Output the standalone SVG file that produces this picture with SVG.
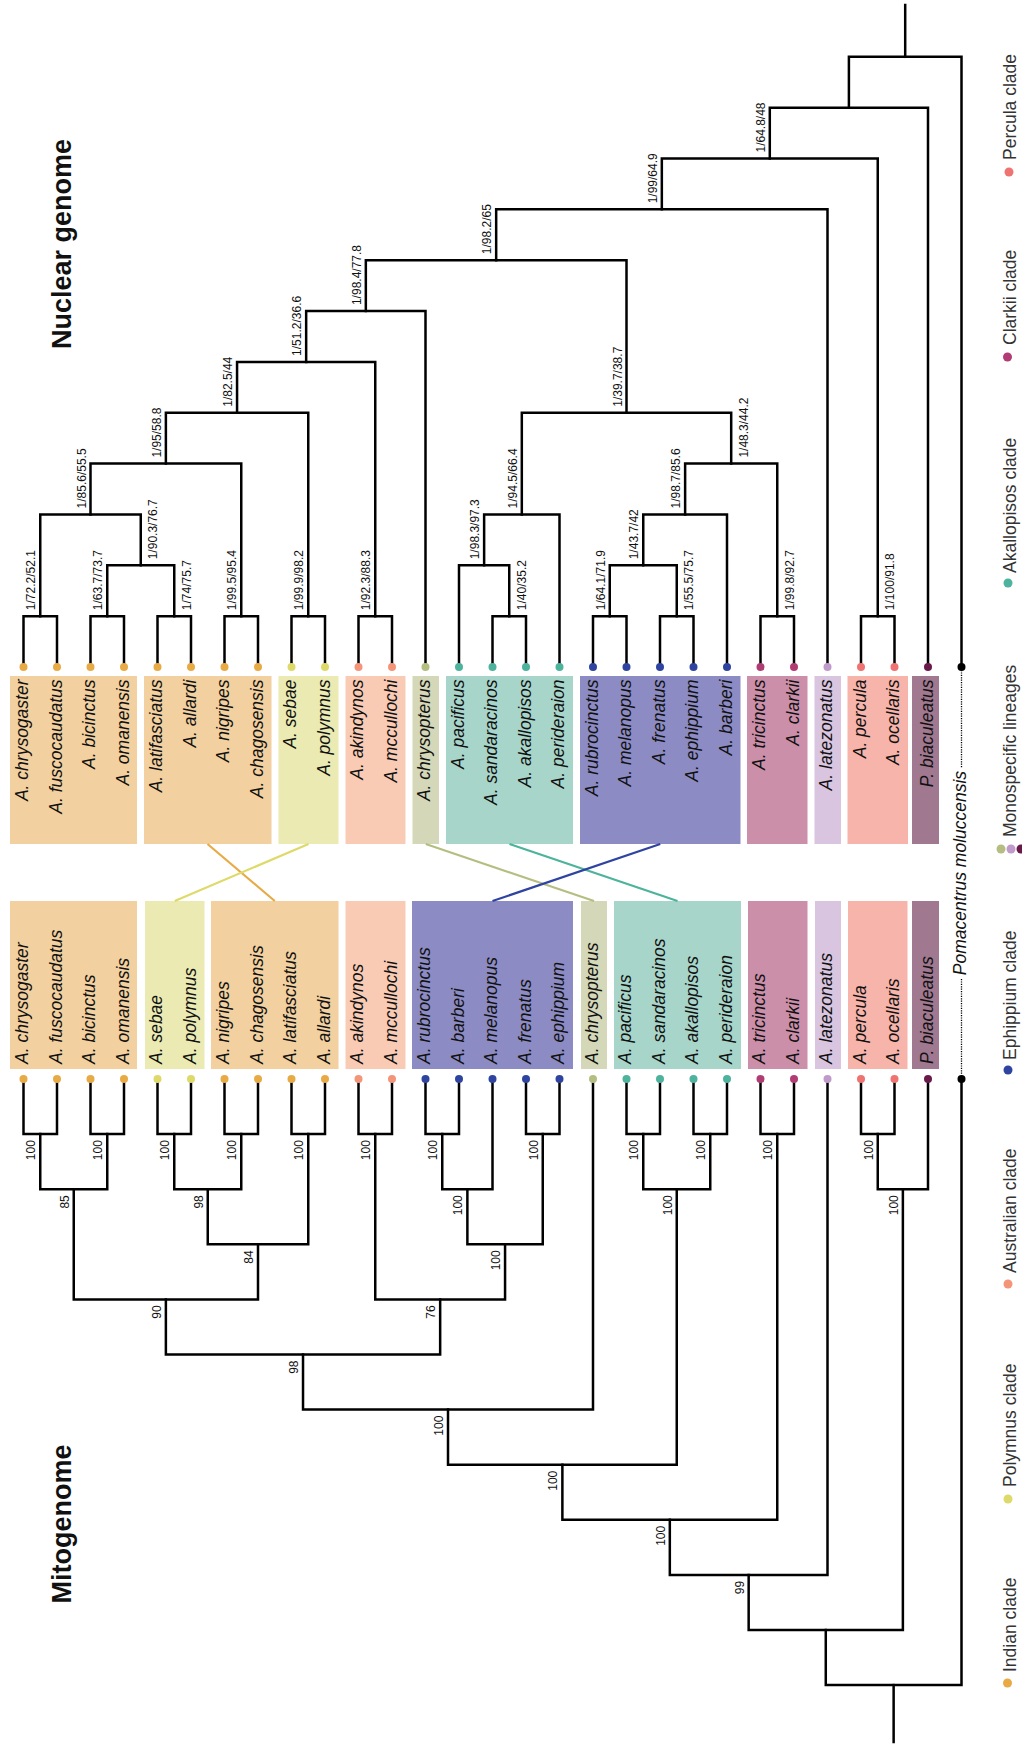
<svg xmlns="http://www.w3.org/2000/svg" width="1022" height="1744" viewBox="0 0 1022 1744">
<style>
.br{fill:none;stroke:#000;stroke-width:2.5;stroke-linejoin:miter;stroke-linecap:square}
.sp{font-family:"Liberation Sans",Arial,sans-serif;font-style:italic;font-size:17.5px;fill:#111}
.up{text-anchor:end}
.nl{font-family:"Liberation Sans",Arial,sans-serif;font-size:12px;fill:#111}
.ml{font-family:"Liberation Sans",Arial,sans-serif;font-size:12px;fill:#111;text-anchor:end}
.ti{font-family:"Liberation Sans",Arial,sans-serif;font-weight:bold;font-size:27px;fill:#111;text-anchor:middle}
.lg{font-family:"Liberation Sans",Arial,sans-serif;font-size:17.5px;fill:#333}
.cx{fill:none;stroke-width:2.2}
.dot{stroke:none}
.ind{fill:#F2D09F}.pol{fill:#EAEAB2}.aus{fill:#F9CBB5}.chr{fill:#D4D8B8}.aka{fill:#A8D5CA}.eph{fill:#8C8BC4}.cla{fill:#CC8FAA}.lat{fill:#D9C5E0}.per{fill:#F7B4AB}.bia{fill:#A07890}
.dind{fill:#E8AA45}.dpol{fill:#DEDA6A}.daus{fill:#F4957A}.dchr{fill:#B5BE80}.daka{fill:#4DB39C}.deph{fill:#2F44A0}.dcla{fill:#B13C74}.dlat{fill:#C09ACB}.dper{fill:#EF7370}.dbia{fill:#6A1A4A}.dblk{fill:#000}
.dotted{fill:none;stroke:#000;stroke-width:1.3;stroke-dasharray:1.2 1.2}
</style>

<!-- Titles -->
<text class="ti" transform="translate(71 244) rotate(-90)">Nuclear genome</text>
<text class="ti" transform="translate(71 1524) rotate(-90)">Mitogenome</text>

<!-- Upper (nuclear) clade boxes -->
<g id="nuc-indian-1">
<rect class="ind" x="10" y="676" width="127" height="168"/>
<text class="sp up" transform="translate(28 679.5) rotate(-90)">A. chrysogaster</text>
<text class="sp up" transform="translate(61.5 679.5) rotate(-90)">A. fuscocaudatus</text>
<text class="sp up" transform="translate(95 679.5) rotate(-90)">A. bicinctus</text>
<text class="sp up" transform="translate(128.5 679.5) rotate(-90)">A. omanensis</text>
</g>
<g id="nuc-indian-2">
<rect class="ind" x="144" y="676" width="127.5" height="168"/>
<text class="sp up" transform="translate(162 679.5) rotate(-90)">A. latifasciatus</text>
<text class="sp up" transform="translate(195.5 679.5) rotate(-90)">A. allardi</text>
<text class="sp up" transform="translate(229 679.5) rotate(-90)">A. nigripes</text>
<text class="sp up" transform="translate(262.5 679.5) rotate(-90)">A. chagosensis</text>
</g>
<g id="nuc-polymnus">
<rect class="pol" x="278.5" y="676" width="60" height="168"/>
<text class="sp up" transform="translate(296 679.5) rotate(-90)">A. sebae</text>
<text class="sp up" transform="translate(329.5 679.5) rotate(-90)">A. polymnus</text>
</g>
<g id="nuc-australian">
<rect class="aus" x="345.5" y="676" width="60" height="168"/>
<text class="sp up" transform="translate(363 679.5) rotate(-90)">A. akindynos</text>
<text class="sp up" transform="translate(396.5 679.5) rotate(-90)">A. mccullochi</text>
</g>
<g id="nuc-chrysopterus">
<rect class="chr" x="412.5" y="676" width="26.5" height="168"/>
<text class="sp up" transform="translate(430 679.5) rotate(-90)">A. chrysopterus</text>
</g>
<g id="nuc-akallopisos">
<rect class="aka" x="446" y="676" width="127" height="168"/>
<text class="sp up" transform="translate(463.5 679.5) rotate(-90)">A. pacificus</text>
<text class="sp up" transform="translate(497 679.5) rotate(-90)">A. sandaracinos</text>
<text class="sp up" transform="translate(530.5 679.5) rotate(-90)">A. akallopisos</text>
<text class="sp up" transform="translate(564 679.5) rotate(-90)">A. perideraion</text>
</g>
<g id="nuc-ephippium">
<rect class="eph" x="580" y="676" width="160.5" height="168"/>
<text class="sp up" transform="translate(597.5 679.5) rotate(-90)">A. rubrocinctus</text>
<text class="sp up" transform="translate(631 679.5) rotate(-90)">A. melanopus</text>
<text class="sp up" transform="translate(664.5 679.5) rotate(-90)">A. frenatus</text>
<text class="sp up" transform="translate(698 679.5) rotate(-90)">A. ephippium</text>
<text class="sp up" transform="translate(731.5 679.5) rotate(-90)">A. barberi</text>
</g>
<g id="nuc-clarkii">
<rect class="cla" x="747" y="676" width="60.5" height="168"/>
<text class="sp up" transform="translate(765 679.5) rotate(-90)">A. tricinctus</text>
<text class="sp up" transform="translate(798.5 679.5) rotate(-90)">A. clarkii</text>
</g>
<g id="nuc-latezonatus">
<rect class="lat" x="814.5" y="676" width="26.5" height="168"/>
<text class="sp up" transform="translate(832 679.5) rotate(-90)">A. latezonatus</text>
</g>
<g id="nuc-percula">
<rect class="per" x="847.5" y="676" width="60.5" height="168"/>
<text class="sp up" transform="translate(865.5 679.5) rotate(-90)">A. percula</text>
<text class="sp up" transform="translate(899 679.5) rotate(-90)">A. ocellaris</text>
</g>
<g id="nuc-biaculeatus">
<rect class="bia" x="912" y="676" width="27" height="168"/>
<text class="sp up" transform="translate(932.5 679.5) rotate(-90)">P. biaculeatus</text>
</g>

<!-- Lower (mitogenome) clade boxes -->
<g id="mito-indian-1">
<rect class="ind" x="10" y="901" width="127" height="168"/>
<text class="sp" transform="translate(28 1064) rotate(-90)">A. chrysogaster</text>
<text class="sp" transform="translate(61.5 1064) rotate(-90)">A. fuscocaudatus</text>
<text class="sp" transform="translate(95 1064) rotate(-90)">A. bicinctus</text>
<text class="sp" transform="translate(128.5 1064) rotate(-90)">A. omanensis</text>
</g>
<g id="mito-polymnus">
<rect class="pol" x="145" y="901" width="59.5" height="168"/>
<text class="sp" transform="translate(162 1064) rotate(-90)">A. sebae</text>
<text class="sp" transform="translate(195.5 1064) rotate(-90)">A. polymnus</text>
</g>
<g id="mito-indian-2">
<rect class="ind" x="211" y="901" width="127.5" height="168"/>
<text class="sp" transform="translate(229 1064) rotate(-90)">A. nigripes</text>
<text class="sp" transform="translate(262.5 1064) rotate(-90)">A. chagosensis</text>
<text class="sp" transform="translate(296 1064) rotate(-90)">A. latifasciatus</text>
<text class="sp" transform="translate(329.5 1064) rotate(-90)">A. allardi</text>
</g>
<g id="mito-australian">
<rect class="aus" x="345.5" y="901" width="60" height="168"/>
<text class="sp" transform="translate(363 1064) rotate(-90)">A. akindynos</text>
<text class="sp" transform="translate(396.5 1064) rotate(-90)">A. mccullochi</text>
</g>
<g id="mito-ephippium">
<rect class="eph" x="412" y="901" width="161" height="168"/>
<text class="sp" transform="translate(430 1064) rotate(-90)">A. rubrocinctus</text>
<text class="sp" transform="translate(463.5 1064) rotate(-90)">A. barberi</text>
<text class="sp" transform="translate(497 1064) rotate(-90)">A. melanopus</text>
<text class="sp" transform="translate(530.5 1064) rotate(-90)">A. frenatus</text>
<text class="sp" transform="translate(564 1064) rotate(-90)">A. ephippium</text>
</g>
<g id="mito-chrysopterus">
<rect class="chr" x="581" y="901" width="26" height="168"/>
<text class="sp" transform="translate(597.5 1064) rotate(-90)">A. chrysopterus</text>
</g>
<g id="mito-akallopisos">
<rect class="aka" x="614" y="901" width="127" height="168"/>
<text class="sp" transform="translate(631 1064) rotate(-90)">A. pacificus</text>
<text class="sp" transform="translate(664.5 1064) rotate(-90)">A. sandaracinos</text>
<text class="sp" transform="translate(698 1064) rotate(-90)">A. akallopisos</text>
<text class="sp" transform="translate(731.5 1064) rotate(-90)">A. perideraion</text>
</g>
<g id="mito-clarkii">
<rect class="cla" x="748" y="901" width="59.5" height="168"/>
<text class="sp" transform="translate(765 1064) rotate(-90)">A. tricinctus</text>
<text class="sp" transform="translate(798.5 1064) rotate(-90)">A. clarkii</text>
</g>
<g id="mito-latezonatus">
<rect class="lat" x="815" y="901" width="26" height="168"/>
<text class="sp" transform="translate(832 1064) rotate(-90)">A. latezonatus</text>
</g>
<g id="mito-percula">
<rect class="per" x="848" y="901" width="59.5" height="168"/>
<text class="sp" transform="translate(865.5 1064) rotate(-90)">A. percula</text>
<text class="sp" transform="translate(899 1064) rotate(-90)">A. ocellaris</text>
</g>
<g id="mito-biaculeatus">
<rect class="bia" x="912" y="901" width="27" height="168"/>
<text class="sp" transform="translate(932.5 1064) rotate(-90)">P. biaculeatus</text>
</g>

<!-- Outgroup -->
<g id="outgroup">
<line class="dotted" x1="961.5" y1="670" x2="961.5" y2="768"/>
<line class="dotted" x1="961.5" y1="979" x2="961.5" y2="1076"/>
<text class="sp" style="text-anchor:middle" transform="translate(966 873) rotate(-90)">Pomacentrus moluccensis</text>
</g>

<!-- Connectors between trees -->
<g id="connectors">
<line class="cx" stroke="#E8AA45" x1="207.5" y1="844" x2="274.75" y2="901"/>
<line class="cx" stroke="#DEDA6A" x1="308.5" y1="844" x2="174.75" y2="901"/>
<line class="cx" stroke="#B5BE80" x1="425.75" y1="844" x2="594" y2="901"/>
<line class="cx" stroke="#4DB39C" x1="509.5" y1="844" x2="677.5" y2="901"/>
<line class="cx" stroke="#2F44A0" x1="660.25" y1="844" x2="492.5" y2="901"/>
</g>

<!-- Nuclear tree -->
<g id="nuclear-tree">
<path class="br" d="M23.5 667V616.15H57V667"/>
<path class="br" d="M90.5 667V616.15H124V667"/>
<path class="br" d="M157.5 667V616.15H191V667"/>
<path class="br" d="M107.25 616.15V565.3H174.25V616.15"/>
<path class="br" d="M224.5 667V616.15H258V667"/>
<path class="br" d="M40.25 616.15V514.45H140.75V565.3"/>
<path class="br" d="M90.5 514.45V463.6H241.25V616.15"/>
<path class="br" d="M291.5 667V616.15H325V667"/>
<path class="br" d="M165.875 463.6V412.75H308.25V616.15"/>
<path class="br" d="M358.5 667V616.15H392V667"/>
<path class="br" d="M237.06 412.75V361.9H375.25V616.15"/>
<path class="br" d="M306.16 361.9V311.05H425.5V667"/>
<path class="br" d="M492.5 667V616.15H526V667"/>
<path class="br" d="M459 667V565.3H509.25V616.15"/>
<path class="br" d="M484.125 565.3V514.45H559.5V667"/>
<path class="br" d="M593 667V616.15H626.5V667"/>
<path class="br" d="M660 667V616.15H693.5V667"/>
<path class="br" d="M609.75 616.15V565.3H676.75V616.15"/>
<path class="br" d="M643.25 565.3V514.45H727V667"/>
<path class="br" d="M760.5 667V616.15H794V667"/>
<path class="br" d="M685.125 514.45V463.6H777.25V616.15"/>
<path class="br" d="M521.81 514.45V412.75H731.19V463.6"/>
<path class="br" d="M365.83 311.05V260.2H626.5V412.75"/>
<path class="br" d="M496.17 260.2V209.35H827.5V667"/>
<path class="br" d="M861 667V616.15H894.5V667"/>
<path class="br" d="M661.83 209.35V158.5H877.75V616.15"/>
<path class="br" d="M769.79 158.5V107.65H928V667"/>
<path class="br" d="M848.9 107.65V56.8H961.5V667"/>
<path class="br" d="M905.2 56.8V5"/>
<g>
<text class="nl" transform="translate(35.25 610.15) rotate(-90)">1/72.2/52.1</text>
<text class="nl" transform="translate(102.25 610.15) rotate(-90)">1/63.7/73.7</text>
<text class="nl" transform="translate(236.25 610.15) rotate(-90)">1/99.5/95.4</text>
<text class="nl" transform="translate(85.5 508.45) rotate(-90)">1/85.6/55.5</text>
<text class="nl" transform="translate(160.875 457.6) rotate(-90)">1/95/58.8</text>
<text class="nl" transform="translate(303.25 610.15) rotate(-90)">1/99.9/98.2</text>
<text class="nl" transform="translate(232.06 406.75) rotate(-90)">1/82.5/44</text>
<text class="nl" transform="translate(370.25 610.15) rotate(-90)">1/92.3/88.3</text>
<text class="nl" transform="translate(301.16 355.9) rotate(-90)">1/51.2/36.6</text>
<text class="nl" transform="translate(360.83 305.05) rotate(-90)">1/98.4/77.8</text>
<text class="nl" transform="translate(479.125 559.3) rotate(-90)">1/98.3/97.3</text>
<text class="nl" transform="translate(516.81 508.45) rotate(-90)">1/94.5/66.4</text>
<text class="nl" transform="translate(604.75 610.15) rotate(-90)">1/64.1/71.9</text>
<text class="nl" transform="translate(638.25 559.3) rotate(-90)">1/43.7/42</text>
<text class="nl" transform="translate(680.125 508.45) rotate(-90)">1/98.7/85.6</text>
<text class="nl" transform="translate(621.5 406.75) rotate(-90)">1/39.7/38.7</text>
<text class="nl" transform="translate(491.17 254.2) rotate(-90)">1/98.2/65</text>
<text class="nl" transform="translate(656.83 203.35) rotate(-90)">1/99/64.9</text>
<text class="nl" transform="translate(764.79 152.5) rotate(-90)">1/64.8/48</text>
<text class="nl" transform="translate(190.75 610.15) rotate(-90)">1/74/75.7</text>
<text class="nl" transform="translate(157.25 559.3) rotate(-90)">1/90.3/76.7</text>
<text class="nl" transform="translate(525.75 610.15) rotate(-90)">1/40/35.2</text>
<text class="nl" transform="translate(693.25 610.15) rotate(-90)">1/55.5/75.7</text>
<text class="nl" transform="translate(793.75 610.15) rotate(-90)">1/99.8/92.7</text>
<text class="nl" transform="translate(747.69 457.6) rotate(-90)">1/48.3/44.2</text>
<text class="nl" transform="translate(894.25 610.15) rotate(-90)">1/100/91.8</text>
</g>
<g>
<circle class="dot dind" cx="23.5" cy="667" r="4"/><circle class="dot dind" cx="57" cy="667" r="4"/><circle class="dot dind" cx="90.5" cy="667" r="4"/><circle class="dot dind" cx="124" cy="667" r="4"/>
<circle class="dot dind" cx="157.5" cy="667" r="4"/><circle class="dot dind" cx="191" cy="667" r="4"/><circle class="dot dind" cx="224.5" cy="667" r="4"/><circle class="dot dind" cx="258" cy="667" r="4"/>
<circle class="dot dpol" cx="291.5" cy="667" r="4"/><circle class="dot dpol" cx="325" cy="667" r="4"/>
<circle class="dot daus" cx="358.5" cy="667" r="4"/><circle class="dot daus" cx="392" cy="667" r="4"/>
<circle class="dot dchr" cx="425.5" cy="667" r="4"/>
<circle class="dot daka" cx="459" cy="667" r="4"/><circle class="dot daka" cx="492.5" cy="667" r="4"/><circle class="dot daka" cx="526" cy="667" r="4"/><circle class="dot daka" cx="559.5" cy="667" r="4"/>
<circle class="dot deph" cx="593" cy="667" r="4"/><circle class="dot deph" cx="626.5" cy="667" r="4"/><circle class="dot deph" cx="660" cy="667" r="4"/><circle class="dot deph" cx="693.5" cy="667" r="4"/><circle class="dot deph" cx="727" cy="667" r="4"/>
<circle class="dot dcla" cx="760.5" cy="667" r="4"/><circle class="dot dcla" cx="794" cy="667" r="4"/>
<circle class="dot dlat" cx="827.5" cy="667" r="4"/>
<circle class="dot dper" cx="861" cy="667" r="4"/><circle class="dot dper" cx="894.5" cy="667" r="4"/>
<circle class="dot dbia" cx="928" cy="667" r="4"/>
<circle class="dot dblk" cx="961.5" cy="667" r="4"/>
</g>
</g>

<!-- Mitogenome tree -->
<g id="mito-tree">
<path class="br" d="M23.5 1079V1134.1H57V1079"/>
<path class="br" d="M90.5 1079V1134.1H124V1079"/>
<path class="br" d="M40.25 1134.1V1189.2H107.25V1134.1"/>
<path class="br" d="M157.5 1079V1134.1H191V1079"/>
<path class="br" d="M224.5 1079V1134.1H258V1079"/>
<path class="br" d="M174.25 1134.1V1189.2H241.25V1134.1"/>
<path class="br" d="M291.5 1079V1134.1H325V1079"/>
<path class="br" d="M207.75 1189.2V1244.3H308.25V1134.1"/>
<path class="br" d="M73.75 1189.2V1299.4H258V1244.3"/>
<path class="br" d="M358.5 1079V1134.1H392V1079"/>
<path class="br" d="M425.5 1079V1134.1H459V1079"/>
<path class="br" d="M442.25 1134.1V1189.2H492.5V1079"/>
<path class="br" d="M526 1079V1134.1H559.5V1079"/>
<path class="br" d="M467.375 1189.2V1244.3H542.75V1134.1"/>
<path class="br" d="M375.25 1134.1V1299.4H505.06V1244.3"/>
<path class="br" d="M165.875 1299.4V1354.5H440.16V1299.4"/>
<path class="br" d="M303.02 1354.5V1409.6H593V1079"/>
<path class="br" d="M626.5 1079V1134.1H660V1079"/>
<path class="br" d="M693.5 1079V1134.1H727V1079"/>
<path class="br" d="M643.25 1134.1V1189.2H710.25V1134.1"/>
<path class="br" d="M448.01 1409.6V1464.7H676.75V1189.2"/>
<path class="br" d="M760.5 1079V1134.1H794V1079"/>
<path class="br" d="M562.38 1464.7V1519.8H777.25V1134.1"/>
<path class="br" d="M669.82 1519.8V1574.9H827.5V1079"/>
<path class="br" d="M861 1079V1134.1H894.5V1079"/>
<path class="br" d="M877.75 1134.1V1189.2H928V1079"/>
<path class="br" d="M748.66 1574.9V1630H902.875V1189.2"/>
<path class="br" d="M825.77 1630V1685.1H961.5V1079"/>
<path class="br" d="M893.63 1685.1V1742"/>
<g>
<text class="ml" transform="translate(35.25 1140.1) rotate(-90)">100</text>
<text class="ml" transform="translate(102.25 1140.1) rotate(-90)">100</text>
<text class="ml" transform="translate(68.75 1195.2) rotate(-90)">85</text>
<text class="ml" transform="translate(169.25 1140.1) rotate(-90)">100</text>
<text class="ml" transform="translate(236.25 1140.1) rotate(-90)">100</text>
<text class="ml" transform="translate(202.75 1195.2) rotate(-90)">98</text>
<text class="ml" transform="translate(303.25 1140.1) rotate(-90)">100</text>
<text class="ml" transform="translate(253 1250.3) rotate(-90)">84</text>
<text class="ml" transform="translate(160.875 1305.4) rotate(-90)">90</text>
<text class="ml" transform="translate(370.25 1140.1) rotate(-90)">100</text>
<text class="ml" transform="translate(437.25 1140.1) rotate(-90)">100</text>
<text class="ml" transform="translate(462.375 1195.2) rotate(-90)">100</text>
<text class="ml" transform="translate(537.75 1140.1) rotate(-90)">100</text>
<text class="ml" transform="translate(500.06 1250.3) rotate(-90)">100</text>
<text class="ml" transform="translate(435.16 1305.4) rotate(-90)">76</text>
<text class="ml" transform="translate(298.02 1360.5) rotate(-90)">98</text>
<text class="ml" transform="translate(443.01 1415.6) rotate(-90)">100</text>
<text class="ml" transform="translate(638.25 1140.1) rotate(-90)">100</text>
<text class="ml" transform="translate(705.25 1140.1) rotate(-90)">100</text>
<text class="ml" transform="translate(671.75 1195.2) rotate(-90)">100</text>
<text class="ml" transform="translate(557.38 1470.7) rotate(-90)">100</text>
<text class="ml" transform="translate(772.25 1140.1) rotate(-90)">100</text>
<text class="ml" transform="translate(664.82 1525.8) rotate(-90)">100</text>
<text class="ml" transform="translate(743.66 1580.9) rotate(-90)">99</text>
<text class="ml" transform="translate(872.75 1140.1) rotate(-90)">100</text>
<text class="ml" transform="translate(897.875 1195.2) rotate(-90)">100</text>
</g>
<g>
<circle class="dot dind" cx="23.5" cy="1079" r="4"/><circle class="dot dind" cx="57" cy="1079" r="4"/><circle class="dot dind" cx="90.5" cy="1079" r="4"/><circle class="dot dind" cx="124" cy="1079" r="4"/>
<circle class="dot dpol" cx="157.5" cy="1079" r="4"/><circle class="dot dpol" cx="191" cy="1079" r="4"/>
<circle class="dot dind" cx="224.5" cy="1079" r="4"/><circle class="dot dind" cx="258" cy="1079" r="4"/><circle class="dot dind" cx="291.5" cy="1079" r="4"/><circle class="dot dind" cx="325" cy="1079" r="4"/>
<circle class="dot daus" cx="358.5" cy="1079" r="4"/><circle class="dot daus" cx="392" cy="1079" r="4"/>
<circle class="dot deph" cx="425.5" cy="1079" r="4"/><circle class="dot deph" cx="459" cy="1079" r="4"/><circle class="dot deph" cx="492.5" cy="1079" r="4"/><circle class="dot deph" cx="526" cy="1079" r="4"/><circle class="dot deph" cx="559.5" cy="1079" r="4"/>
<circle class="dot dchr" cx="593" cy="1079" r="4"/>
<circle class="dot daka" cx="626.5" cy="1079" r="4"/><circle class="dot daka" cx="660" cy="1079" r="4"/><circle class="dot daka" cx="693.5" cy="1079" r="4"/><circle class="dot daka" cx="727" cy="1079" r="4"/>
<circle class="dot dcla" cx="760.5" cy="1079" r="4"/><circle class="dot dcla" cx="794" cy="1079" r="4"/>
<circle class="dot dlat" cx="827.5" cy="1079" r="4"/>
<circle class="dot dper" cx="861" cy="1079" r="4"/><circle class="dot dper" cx="894.5" cy="1079" r="4"/>
<circle class="dot dbia" cx="928" cy="1079" r="4"/>
<circle class="dot dblk" cx="961.5" cy="1079" r="4"/>
</g>
</g>

<!-- Legend -->
<g id="legend">
<circle class="dot dind" cx="1007.5" cy="1683" r="4.5"/>
<text class="lg" transform="translate(1016 1672) rotate(-90)">Indian clade</text>
<circle class="dot dpol" cx="1008" cy="1499" r="4.5"/>
<text class="lg" transform="translate(1016 1487) rotate(-90)">Polymnus clade</text>
<circle class="dot daus" cx="1008" cy="1284" r="4.5"/>
<text class="lg" transform="translate(1016 1273) rotate(-90)">Australian clade</text>
<circle class="dot deph" cx="1008" cy="1070" r="4.5"/>
<text class="lg" transform="translate(1016 1060) rotate(-90)">Ephippium clade</text>
<circle class="dot dchr" cx="1001" cy="849" r="4.5"/>
<circle class="dot dlat" cx="1011" cy="849" r="4.5"/>
<circle class="dot dbia" cx="1021" cy="849" r="4.5"/>
<text class="lg" transform="translate(1016 837) rotate(-90)">Monospecific lineages</text>
<circle class="dot daka" cx="1008" cy="583" r="4.5"/>
<text class="lg" transform="translate(1016 573) rotate(-90)">Akallopisos clade</text>
<circle class="dot dcla" cx="1007.5" cy="357" r="4.5"/>
<text class="lg" transform="translate(1016 345) rotate(-90)">Clarkii clade</text>
<circle class="dot dper" cx="1009" cy="172" r="4.5"/>
<text class="lg" transform="translate(1016 160) rotate(-90)">Percula clade</text>
</g>
</svg>
